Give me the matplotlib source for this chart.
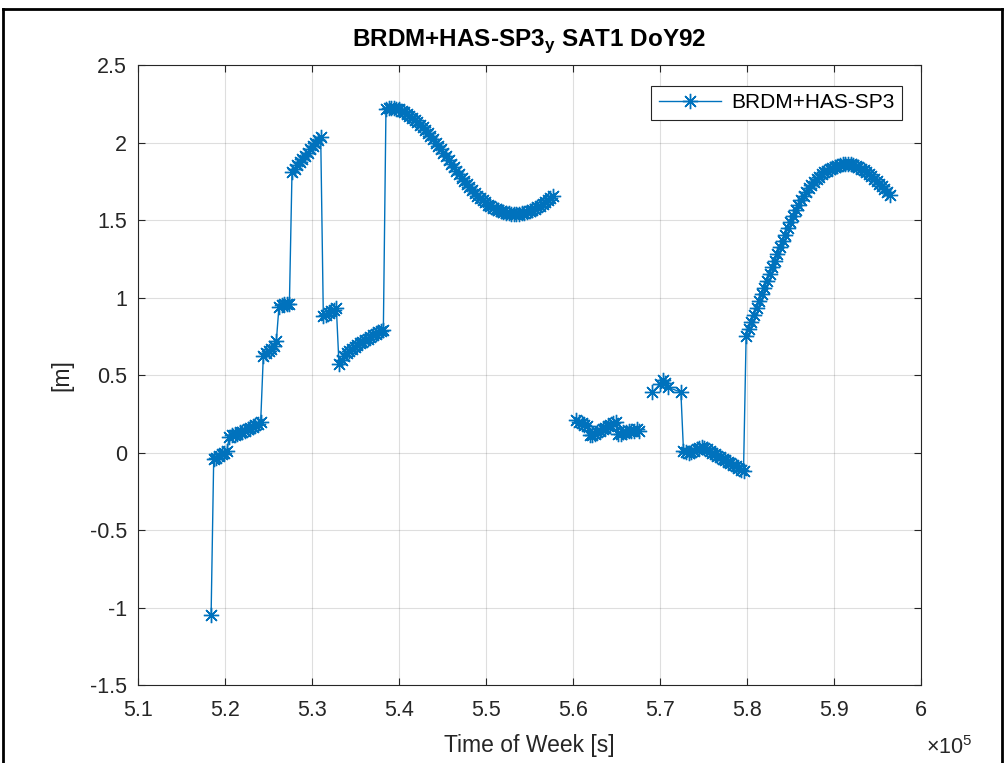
import numpy as np
import matplotlib.pyplot as plt
from matplotlib.ticker import FuncFormatter
from matplotlib.lines import Line2D

plt.rcParams['font.family'] = ['Liberation Sans', 'DejaVu Sans']
plt.rcParams['mathtext.fontset'] = 'custom'
plt.rcParams['mathtext.rm'] = 'Liberation Sans'
plt.rcParams['mathtext.bf'] = 'Liberation Sans:bold'

step = 300  # epoch spacing [s]

# first arc: 518400 s onwards, one value every 300 s
arc1_start = 518400
arc1_vals = [
    -1.05,
    -0.04, -0.035, -0.02, -0.01, 0.0, 0.01,
    0.10, 0.11, 0.115, 0.12, 0.13, 0.135, 0.14, 0.15, 0.155, 0.165, 0.175, 0.185, 0.20,
    0.62, 0.64, 0.655, 0.67, 0.69, 0.72,
    0.94, 0.95, 0.955, 0.955, 0.96,
    1.81, 1.83, 1.855, 1.875, 1.895, 1.915, 1.935, 1.955, 1.975, 1.995, 2.015, 2.035,
    0.88, 0.89, 0.90, 0.91, 0.92, 0.93,
    0.57, 0.60, 0.62, 0.64, 0.655, 0.67, 0.68, 0.695, 0.705, 0.715, 0.725, 0.735,
    0.745, 0.755, 0.765, 0.775, 0.785, 0.79,
    2.215, 2.220, 2.222, 2.221, 2.218, 2.213, 2.206, 2.197, 2.186, 2.174, 2.161,
    2.147, 2.132, 2.116, 2.099, 2.081, 2.062, 2.042, 2.021, 2.000, 1.978, 1.956,
    1.933, 1.910, 1.887, 1.864, 1.841, 1.818, 1.796, 1.774, 1.753, 1.732, 1.712,
    1.693, 1.675, 1.658, 1.642, 1.627, 1.613, 1.600, 1.589, 1.579, 1.570, 1.562,
    1.556, 1.551, 1.547, 1.544, 1.542, 1.541, 1.541, 1.542, 1.544, 1.548, 1.553,
    1.559, 1.566, 1.574, 1.583, 1.593, 1.604, 1.616, 1.629, 1.643, 1.658,
]

# second arc around 5.6e5
arc2_start = 560400
arc2_vals = [
    0.21, 0.20, 0.19, 0.18, 0.17,
    0.11, 0.115, 0.12, 0.13, 0.14, 0.15, 0.16, 0.17, 0.18, 0.19, 0.20,
    0.12, 0.12, 0.13, 0.13, 0.14, 0.14, 0.14, 0.15, 0.14,
]

# sparse epochs near 5.7e5
cluster_t = [569100, 570000, 570300, 570600, 570900, 572400]
cluster_vals = [0.39, 0.44, 0.47, 0.45, 0.42, 0.39]

# last arc
arc3_start = 572700
arc3_vals = [
    0.01, 0.005, 0.0, 0.005, 0.01, 0.02, 0.03, 0.035, 0.03, 0.02, 0.01, 0.0,
    -0.01, -0.02, -0.03, -0.04, -0.05, -0.06, -0.07, -0.08, -0.09, -0.10, -0.11, -0.12,
    0.750, 0.797, 0.843, 0.888, 0.932, 0.976, 1.020, 1.064, 1.108, 1.152, 1.195,
    1.238, 1.281, 1.323, 1.364, 1.404, 1.450, 1.490, 1.528, 1.563, 1.596, 1.626,
    1.654, 1.680, 1.704, 1.726, 1.746, 1.764, 1.780, 1.795, 1.808, 1.819, 1.829,
    1.838, 1.845, 1.851, 1.856, 1.859, 1.861, 1.862, 1.860, 1.856, 1.850, 1.842,
    1.832, 1.821, 1.809, 1.796, 1.782, 1.767, 1.751, 1.735, 1.718, 1.700, 1.681, 1.662,
]

t1 = arc1_start + step * np.arange(len(arc1_vals))
t2 = arc2_start + step * np.arange(len(arc2_vals))
t3 = arc3_start + step * np.arange(len(arc3_vals))

# NaN breaks where there is no data
t = np.concatenate([t1, [np.nan], t2, [np.nan], cluster_t, t3])
y = np.concatenate([arc1_vals, [np.nan], arc2_vals, [np.nan], cluster_vals, arc3_vals])

fig = plt.figure(figsize=(10.06, 7.63), dpi=100)
ax = fig.add_axes([0.1372, 0.1022, 0.7783, 0.8126])

ax.plot(t, y, color='#0072BD', lw=1.0, marker=(8, 2, 0), ms=11, mew=1.0,
        label='BRDM+HAS-SP3')

ax.set_xlim(510000, 600000)
ax.set_ylim(-1.5, 2.5)
ax.set_xticks(range(510000, 600001, 10000))
ax.set_yticks(np.arange(-1.5, 2.51, 0.5))
ax.xaxis.set_major_formatter(FuncFormatter(lambda v, p: f'{v / 1e5:g}'))
ax.yaxis.set_major_formatter(FuncFormatter(lambda v, p: f'{v:g}'))

ax.tick_params(direction='in', top=True, right=True, length=5, width=0.8,
               labelsize=15.5, colors='#262626')
ax.tick_params(axis='x', pad=11)
ax.tick_params(axis='y', pad=8)
for s in ax.spines.values():
    s.set_color('#262626')
    s.set_linewidth(0.8)
ax.grid(True, color='#262626', alpha=0.15, lw=0.8)

ax.set_title('BRDM+HAS-SP3$_\\mathbf{y}$ SAT1 DoY92', fontsize=17.5,
             fontweight='bold', pad=14)
ax.set_xlabel('Time of Week [s]', fontsize=16.5, color='#262626', labelpad=9)
ax.set_ylabel('[m]', fontsize=16.5, color='#262626', labelpad=12)

leg = ax.legend(loc='upper right', bbox_to_anchor=(0.976, 0.966), borderaxespad=0,
                fontsize=15, fancybox=False, framealpha=1, edgecolor='#262626',
                handlelength=3.0, handletextpad=0.5, borderpad=0.35)
leg.get_frame().set_linewidth(0.8)

fig.text(0.92, 0.012, r'$\times10^{5}$', fontsize=15.5, color='#262626')

# black frame around the figure
fig.add_artist(Line2D([0.003, 0.003], [0, 0.988], color='black', lw=2))
fig.add_artist(Line2D([0.003, 0.996], [0.988, 0.988], color='black', lw=2))
fig.add_artist(Line2D([0.996, 0.996], [0, 0.988], color='black', lw=2))

fig.savefig('out.png', dpi=100)
